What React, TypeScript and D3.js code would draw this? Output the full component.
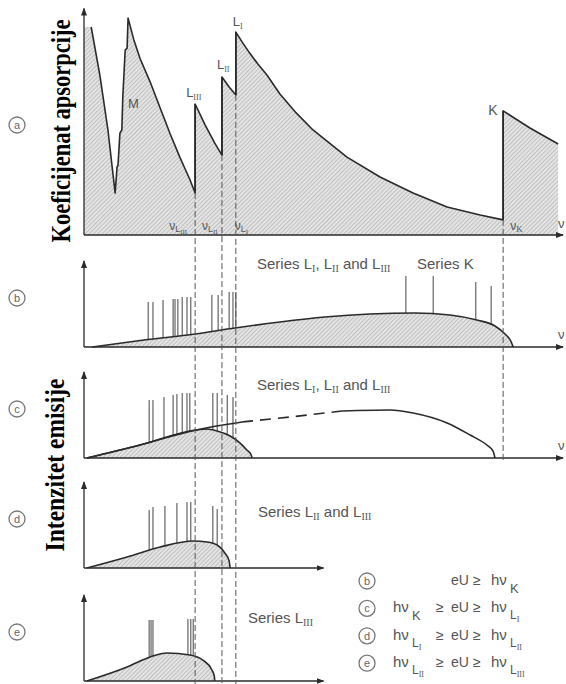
import React from "react";
import * as d3 from "d3";

// frequency axis in arbitrary units (0..100), intensities 0..100

// (a) absorption coefficient vs frequency
const absNu = [0, 1.5, 3.3, 5.0, 6.5, 6.9, 7.1, 7.5, 7.9, 8.1, 8.6, 9.0, 9.2, 10.4, 11.7, 13.8, 15.9, 18.0, 20.0, 22.1, 23.2, 23.2, 25.3, 27.3, 28.8, 28.8, 30.3, 31.7, 31.7, 33.2, 34.7, 36.3, 38.2, 40.9, 44.3, 47.8, 54.9, 61.8, 68.7, 75.8, 82.7, 87.5, 87.5, 93.1, 99.0];
const absMu = [93.7, 93.7, 72.1, 47.3, 18.9, 30.6, 31.5, 45.9, 47.3, 62.2, 83.3, 84.2, 97.7, 88.0, 79.5, 69.0, 57.2, 45.5, 35.1, 25.0, 18.9, 59.0, 49.5, 41.4, 36.0, 71.2, 66.7, 63.1, 91.4, 86.3, 81.6, 77.0, 72.1, 63.5, 55.0, 47.3, 35.1, 26.1, 18.9, 12.6, 9.0, 6.8, 55.9, 48.2, 41.0];

// absorption edges
const edgeNames = ["III", "II", "I", "K"];
const edgeNu = [23.2, 28.8, 31.7, 87.5];

// (b) eU >= hv_K
const bNu = [1.7, 12.5, 23.2, 31.5, 40.9, 50.3, 59.7, 69.1, 76.4, 82.0, 85.8, 87.9, 89.1, 89.6];
const bI = [0, 8.1, 15.1, 22.1, 29.1, 34.9, 38.4, 39.5, 37.2, 31.4, 24.4, 15.1, 7.0, 0];
const bLineNu = [13.4, 14.4, 16.5, 18.6, 19.0, 19.6, 20.5, 21.5, 22.3, 26.7, 28.0, 30.3, 31.1, 31.7, 67.2, 72.9, 81.8, 85.0];
const bLineI = [52.3, 52.3, 54.7, 55.8, 55.8, 55.8, 58.1, 58.1, 58.1, 60.5, 60.5, 64.0, 64.0, 64.0, 82.6, 82.6, 75.6, 70.9];

// (c) hv_K > eU >= hv_LI  (full continuum of (b) shown for reference)
const cNu = [0.6, 11.7, 23.4, 33.0, 43.0, 53.9, 63.9, 68.7, 75.8, 80.6, 84.1, 85.4, 85.8];
const cI = [0, 15.1, 32.6, 41.9, 47.7, 54.7, 55.8, 52.3, 40.7, 26.7, 15.1, 8.1, 0];
const cDashed = [33.0, 53.9];
const cFillNu = [0.6, 11.7, 23.4, 25.7, 27.8, 30.5, 32.6, 34.0, 34.9, 35.1];
const cFillI = [0, 15.1, 32.6, 33.7, 31.4, 25.6, 17.4, 9.3, 3.5, 0];
const cLineNu = [13.6, 14.4, 16.7, 18.6, 19.4, 20.5, 21.5, 22.1, 26.9, 27.8, 29.9, 31.1];
const cLineI = [67.4, 67.4, 70.9, 73.3, 74.4, 75.6, 75.6, 75.6, 75.6, 75.6, 73.3, 70.9];

// (d) hv_LI >= eU >= hv_LII
const dNu = [0.6, 9.0, 15.9, 22.8, 25.7, 27.8, 29.4, 30.3, 30.5];
const dI = [0, 12.8, 24.4, 31.4, 30.2, 26.7, 17.4, 8.1, 0];
const dLineNu = [13.6, 14.4, 16.9, 19.4, 21.5, 22.3, 26.9, 27.8];
const dLineI = [67.4, 70.9, 72.1, 75.6, 76.7, 76.7, 72.1, 68.6];

// (e) hv_LII >= eU >= hv_LIII
const eNu = [0.6, 9.0, 13.8, 17.3, 22.1, 24.8, 26.7, 27.2, 27.3];
const eI = [0, 16.3, 27.9, 32.6, 30.2, 24.4, 12.8, 5.8, 0];
const eLineNu = [13.6, 14.0, 14.4, 21.7, 22.3, 22.8];
const eLineI = [70.9, 70.9, 70.9, 72.1, 72.1, 72.1];

// legend rows
const legendMarks = ["b", "c", "d", "e"];
const legendLow = ["", "K", "I", "II"];
const legendHigh = ["K", "I", "II", "III"];

type Pt = [number, number];
const zip = (a: number[], b: number[]): Pt[] => a.map((v, i) => [v, b[i]]);

const SANS = "Liberation Sans, Arial, sans-serif";
const SERIF = "Liberation Serif, Times New Roman, serif";
const INK = "#2a2a2a";
const GREY = "#555";

// text with subscripts: parts [normal, subscript]
function rich(parts: [string, string][], subSize: number, shift: number) {
  const out: any[] = [];
  let low = false;
  parts.forEach((p, i) => {
    if (p[0]) {
      out.push(<tspan key={"n" + i} dy={low ? -shift : 0}>{p[0]}</tspan>);
      low = false;
    }
    if (p[1]) {
      out.push(<tspan key={"s" + i} dy={low ? 0 : shift} fontSize={subSize} fontFamily={SERIF}>{p[1]}</tspan>);
      low = true;
    }
  });
  return out;
}

// h-nu with an L/K subscript as in the legend
function HNu({ x, y, sub }: { x: number; y: number; sub: string }) {
  const isK = sub === "K";
  return (
    <g>
      <text x={x} y={y} fontSize={15} fontFamily={SANS} fill={GREY}>hν</text>
      {isK ? (
        <text x={x + 19} y={y + 8} fontSize={13} fontFamily={SANS} fill={GREY}>K</text>
      ) : (
        <text x={x + 19} y={y + 7} fontSize={12} fontFamily={SANS} fill={GREY}>
          L<tspan dy={3} fontSize={8} fontFamily={SERIF}>{sub}</tspan>
        </text>
      )}
    </g>
  );
}

export default function App() {
  const x = d3.scaleLinear().domain([0, 100]).range([84, 563]);
  const yA = d3.scaleLinear().domain([0, 100]).range([235, 13]);

  const absPts = zip(absNu, absMu);
  const absArea = d3.area<Pt>().x(d => x(d[0])).y0(yA(0)).y1(d => yA(d[1]))(absPts) || "";
  const absLine = d3.line<Pt>().x(d => x(d[0])).y(d => yA(d[1]))(absPts.slice(1)) || "";

  const panels = [
    { key: "b", base: 347, nu: bNu, I: bI, lnu: bLineNu, lI: bLineI, end: 100 },
    { key: "c", base: 458, nu: cFillNu, I: cFillI, lnu: cLineNu, lI: cLineI, end: 100 },
    { key: "d", base: 568, nu: dNu, I: dI, lnu: dLineNu, lI: dLineI, end: 50 },
    { key: "e", base: 681, nu: eNu, I: eI, lnu: eLineNu, lI: eLineI, end: 50 },
  ];
  const yOf = (base: number) => d3.scaleLinear().domain([0, 100]).range([base, base - 86]);

  // edge tops/bottoms from the absorption data
  const edgeTop = edgeNu.map(e => d3.max(absPts.filter(p => p[0] === e), p => p[1]) as number);
  const edgeLow = edgeNu.map(e => d3.min(absPts.filter(p => p[0] === e), p => p[1]) as number);

  // panel (c) continuum split into solid / dashed / solid
  const yc = yOf(458);
  const cPts = zip(cNu, cI);
  const cLine = d3.line<Pt>().x(d => x(d[0])).y(d => yc(d[1])).curve(d3.curveMonotoneX);
  const cSeg1 = cLine(cPts.filter(p => p[0] <= cDashed[0])) || "";
  const cSeg2 = cLine(cPts.filter(p => p[0] >= cDashed[0] && p[0] <= cDashed[1])) || "";
  const cSeg3 = cLine(cPts.filter(p => p[0] >= cDashed[1])) || "";

  const circleMark = (cx: number, cy: number, t: string, k: string) => (
    <g key={k}>
      <circle cx={cx} cy={cy} r={8} fill="none" stroke="#777" strokeWidth={1.3} />
      <text x={cx} y={cy + 4} textAnchor="middle" fontSize={11} fontFamily={SANS} fill="#666">{t}</text>
    </g>
  );

  const edgeLabelDx = [-9, -5, -3, -15];
  const edgeLabelDy = [-7, -8, -6, 4];
  const nuLabelDx = [-26, -20, -1, 7];

  return (
    <svg width={566} height={684} style={{ position: "absolute", left: 0, top: 0, background: "#fff" }}>
      <defs>
        <pattern id="hatch" width={3} height={3} patternUnits="userSpaceOnUse" patternTransform="rotate(45)">
          <rect width={3} height={3} fill="#e4e4e4" />
          <line x1={0} y1={0} x2={0} y2={3} stroke="#9c9c9c" strokeWidth={1} />
        </pattern>
        <marker id="arr" viewBox="0 0 8 6" refX={7} refY={3} markerWidth={8} markerHeight={6} markerUnits="userSpaceOnUse" orient="auto">
          <path d="M0,0 L8,3 L0,6 z" fill={INK} />
        </marker>
      </defs>

      {/* (a) absorption */}
      <path d={absArea} fill="url(#hatch)" />
      <path d={absLine} fill="none" stroke={INK} strokeWidth={1.6} strokeLinejoin="round" />
      <line x1={x(0)} y1={yA(0)} x2={x(100)} y2={yA(0)} stroke={INK} strokeWidth={1.3} markerEnd="url(#arr)" />
      <line x1={x(0)} y1={yA(0)} x2={x(0)} y2={yA(102)} stroke={INK} strokeWidth={1.3} markerEnd="url(#arr)" />
      <text x={x(100) - 5} y={yA(0) - 7} fontSize={13} fontFamily={SANS} fill={GREY}>ν</text>
      <text x={128} y={108} fontSize={13} fontFamily={SANS} fill={GREY}>M</text>

      {/* emission panels */}
      {panels.map(p => {
        const y = yOf(p.base);
        const pts = zip(p.nu, p.I);
        const area = d3.area<Pt>().x(d => x(d[0])).y0(y(0)).y1(d => y(d[1])).curve(d3.curveMonotoneX)(pts) || "";
        const line = d3.line<Pt>().x(d => x(d[0])).y(d => y(d[1])).curve(d3.curveMonotoneX)(pts) || "";
        return (
          <g key={p.key}>
            {p.lnu.map((n, i) => (
              <line key={i} x1={x(n)} x2={x(n)} y1={y(0)} y2={y(p.lI[i])} stroke="#444" strokeWidth={1} />
            ))}
            <path d={area} fill="url(#hatch)" />
            <path d={line} fill="none" stroke={INK} strokeWidth={1.6} />
            <line x1={x(0)} y1={y(0)} x2={x(p.end)} y2={y(0)} stroke={INK} strokeWidth={1.3} markerEnd="url(#arr)" />
            <line x1={x(0)} y1={y(0)} x2={x(0)} y2={y(100)} stroke={INK} strokeWidth={1.3} markerEnd="url(#arr)" />
            {p.end === 100 && (
              <text x={x(100) - 5} y={y(0) - 8} fontSize={13} fontFamily={SANS} fill={GREY}>ν</text>
            )}
            {circleMark(17, y(0) - 49, p.key, "m" + p.key)}
          </g>
        );
      })}

      {/* full continuum in (c) */}
      <path d={cSeg1} fill="none" stroke={INK} strokeWidth={1.6} />
      <path d={cSeg2} fill="none" stroke={INK} strokeWidth={1.6} strokeDasharray="11,7" />
      <path d={cSeg3} fill="none" stroke={INK} strokeWidth={1.6} />

      {/* edges: vertical dashed guides */}
      {edgeNu.map((e, i) => (
        <line key={i} x1={x(e)} x2={x(e)} y1={yA(edgeLow[i])} y2={i === 3 ? 460 : 684}
          stroke="#555" strokeWidth={1} strokeDasharray="6,3" />
      ))}
      {/* edges: vertical jumps */}
      {edgeNu.map((e, i) => (
        <line key={"j" + i} x1={x(e)} x2={x(e)} y1={yA(edgeLow[i])} y2={yA(edgeTop[i])} stroke={INK} strokeWidth={1.6} />
      ))}
      {edgeNu.map((e, i) => (
        <text key={"el" + i} x={x(e) + edgeLabelDx[i]} y={yA(edgeTop[i]) + edgeLabelDy[i]} fontSize={i === 3 ? 14 : 13} fontFamily={SANS} fill={GREY}>
          {i === 3 ? "K" : rich([["L", edgeNames[i]]], 8, 3)}
        </text>
      ))}
      {edgeNu.map((e, i) => (
        <text key={"nl" + i} x={x(e) + nuLabelDx[i]} y={yA(0) - 5} fontSize={12} fontFamily={SANS} fill={GREY}>
          {i === 3 ? rich([["ν", "K"]], 9, 2) : (
            <>ν<tspan dy={2} fontSize={9}>L</tspan><tspan dy={2} fontSize={7} fontFamily={SERIF}>{edgeNames[i]}</tspan></>
          )}
        </text>
      ))}

      {circleMark(17, 125, "a", "ma")}

      {/* series labels */}
      <text x={257} y={269} fontSize={15} fontFamily={SANS} fill={GREY}>
        {rich([["Series L", "I"], [", L", "II"], [" and L", "III"]], 10, 3)}
      </text>
      <text x={417} y={269} fontSize={15} fontFamily={SANS} fill={GREY}>Series K</text>
      <text x={257} y={390} fontSize={15} fontFamily={SANS} fill={GREY}>
        {rich([["Series L", "I"], [", L", "II"], [" and L", "III"]], 10, 3)}
      </text>
      <text x={258} y={517} fontSize={15} fontFamily={SANS} fill={GREY}>
        {rich([["Series L", "II"], [" and L", "III"]], 10, 3)}
      </text>
      <text x={248} y={623} fontSize={15} fontFamily={SANS} fill={GREY}>
        {rich([["Series L", "III"]], 10, 3)}
      </text>

      {/* axis titles (narrow, tall bold serif) */}
      <text transform="translate(70,131) rotate(-90) scale(1,1.25)" textAnchor="middle" fontSize={22.5} fontWeight="bold"
        fontFamily={SERIF} fill="#000">Koeficijenat apsorpcije</text>
      <text transform="translate(64,465) rotate(-90) scale(1,1.2)" textAnchor="middle" fontSize={23.5} fontWeight="bold"
        fontFamily={SERIF} fill="#000">Intenzitet emisije</text>

      {/* legend */}
      {legendMarks.map((m, i) => {
        const by = 585 + i * 27.4;
        return (
          <g key={"lg" + m}>
            {circleMark(367, by - 4, m, "lc" + m)}
            {legendLow[i] && <HNu x={393} y={by} sub={legendLow[i]} />}
            {legendLow[i] && <text x={436} y={by} fontSize={14} fontFamily={SANS} fill={GREY}>≥</text>}
            <text x={451} y={by} fontSize={14} fontFamily={SANS} fill={GREY}>eU</text>
            <text x={473} y={by} fontSize={14} fontFamily={SANS} fill={GREY}>≥</text>
            <HNu x={491} y={by} sub={legendHigh[i]} />
          </g>
        );
      })}
    </svg>
  );
}
